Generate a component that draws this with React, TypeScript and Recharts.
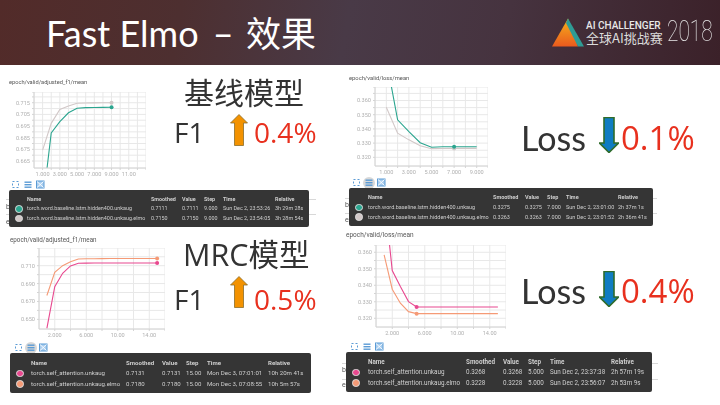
import { LineChart, Line, XAxis, YAxis, CartesianGrid } from "recharts";

const FONT = "Roboto, sans-serif";
const SLIDE_FONT = "'Open Sans', 'Noto Sans CJK SC', sans-serif";
const TITLE_FONT = "Lato, 'Noto Sans CJK SC', sans-serif";

const GREEN = "#2ba58f";
const GRAY = "#d2c8c8";
const PINK = "#e8488f";
const ORANGE = "#f59a76";

// chart values
const baselineSteps = [1, 2, 3, 4, 5, 6, 7, 8, 9];
const mrcSteps = [1, 2, 3, 4, 5, 6, 7, 8, 9, 10, 11, 12, 13, 14, 15];

const baseF1 = [0.627, 0.689, 0.6987, 0.7064, 0.7102, 0.7108, 0.7109, 0.711, 0.7111];
const baseF1Elmo = [0.6744, 0.6973, 0.7093, 0.7122, 0.7145, 0.7148, 0.7149, 0.715, 0.715];
const baseLoss = [0.389, 0.3464, 0.3381, 0.3303, 0.3271, 0.3274, 0.3275, 0.3275, 0.3275];
const baseLossElmo = [0.3553, 0.337, 0.3323, 0.3282, 0.3261, 0.3262, 0.3263, 0.3263, 0.3263];
const mrcF1 = [0.64, 0.6865, 0.7015, 0.7097, 0.7127, 0.7129, 0.713, 0.713, 0.7131, 0.7131, 0.7131, 0.7131, 0.7131, 0.7131, 0.7131];
const mrcF1Elmo = [0.6767, 0.7026, 0.71, 0.7145, 0.7175, 0.7177, 0.7178, 0.7179, 0.718, 0.718, 0.718, 0.718, 0.718, 0.718, 0.718];
const mrcLoss = [0.3955, 0.3489, 0.3392, 0.3301, 0.3268, 0.3268, 0.3268, 0.3268, 0.3268, 0.3268, 0.3268, 0.3268, 0.3268, 0.3268, 0.3268];
const mrcLossElmo = [0.3584, 0.3376, 0.3291, 0.324, 0.3228, 0.3228, 0.3228, 0.3228, 0.3228, 0.3228, 0.3228, 0.3228, 0.3228, 0.3228, 0.3228];

const xGridBaseF1 = [1, 2, 3, 4, 5, 6, 7, 8, 9, 10, 11, 12, 13];
const xGridBaseLoss = [1, 2, 3, 4, 5, 6, 7, 8, 9, 10];
const xGridMrc = [2, 4, 6, 8, 10, 12, 14, 16];
const xLabelsBase: Record<number, string> = { 1: "1.000", 3: "3.000", 5: "5.000", 7: "7.000", 9: "9.000", 11: "11.00" };
const xLabelsBaseLoss: Record<number, string> = { 1: "1.000", 3: "3.000", 5: "5.000", 7: "7.000", 9: "9.000" };
const xLabelsMrc: Record<number, string> = { 2: "2.000", 6: "6.000", 10: "10.00", 14: "14.00" };

const yGridBaseF1 = [0.665, 0.67, 0.675, 0.68, 0.685, 0.69, 0.695, 0.7, 0.705, 0.71, 0.715, 0.72];
const yLabelsBaseF1 = [0.665, 0.675, 0.685, 0.695, 0.705, 0.715];
const yGridLoss = [0.32, 0.325, 0.33, 0.335, 0.34, 0.345, 0.35, 0.355, 0.36, 0.365];
const yLabelsLoss = [0.32, 0.33, 0.34, 0.35, 0.36];
const yGridMrcF1 = [0.65, 0.66, 0.67, 0.68, 0.69, 0.7, 0.71, 0.72];
const yLabelsMrcF1 = [0.65, 0.67, 0.69, 0.71];

const tableColumns = ["Name", "Smoothed", "Value", "Step", "Time", "Relative"];
const rowsBaseF1 = [
  ["torch.word.baseline.lstm.hidden400.unkaug", "0.7111", "0.7111", "9.000", "Sun Dec 2, 23:53:26", "3h 29m 28s"],
  ["torch.word.baseline.lstm.hidden400.unkaug.elmo", "0.7150", "0.7150", "9.000", "Sun Dec 2, 23:54:05", "3h 28m 54s"],
];
const rowsBaseLoss = [
  ["torch.word.baseline.lstm.hidden400.unkaug", "0.3275", "0.3275", "7.000", "Sun Dec 2, 23:01:00", "2h 37m 1s"],
  ["torch.word.baseline.lstm.hidden400.unkaug.elmo", "0.3263", "0.3263", "7.000", "Sun Dec 2, 23:01:52", "2h 36m 41s"],
];
const rowsMrcF1 = [
  ["torch.self_attention.unkaug", "0.7131", "0.7131", "15.00", "Mon Dec 3, 07:01:01", "10h 20m 41s"],
  ["torch.self_attention.unkaug.elmo", "0.7180", "0.7180", "15.00", "Mon Dec 3, 07:08:55", "10h 5m 57s"],
];
const rowsMrcLoss = [
  ["torch.self_attention.unkaug", "0.3268", "0.3268", "5.000", "Sun Dec 2, 23:37:38", "2h 57m 19s"],
  ["torch.self_attention.unkaug.elmo", "0.3228", "0.3228", "5.000", "Sun Dec 2, 23:56:07", "2h 53m 9s"],
];

type PanelProps = {
  box: [number, number, number, number];
  steps: number[];
  first: number[];
  second: number[];
  colors: [string, string];
  xDomain: [number, number];
  yDomain: [number, number];
  xGrid: number[];
  xLabels: Record<number, string>;
  yGrid: number[];
  yLabels: number[];
  markStep: number;
};

function Panel({ box, steps, first, second, colors, xDomain, yDomain, xGrid, xLabels, yGrid, yLabels, markStep }: PanelProps) {
  const [left, top, w, h] = box;
  const axisW = 30;
  const axisH = 17;
  const data = steps.map((s, i) => ({ step: s, a: first[i], b: second[i] }));
  const mark = (color: string) => (p: any) =>
    p.payload.step === markStep ? <circle key={p.index} cx={p.cx} cy={p.cy} r={2} fill={color} /> : <g key={p.index} />;
  return (
    <div style={{ position: "absolute", left: left - axisW, top, filter: "blur(0.45px)" }}>
      <LineChart width={w + axisW} height={h + axisH} data={data} margin={{ top: 0, right: 0, bottom: 0, left: 0 }}>
        <CartesianGrid stroke="#e8e8e8" strokeWidth={1} />
        <XAxis
          dataKey="step"
          type="number"
          domain={xDomain}
          ticks={xGrid}
          interval={0}
          allowDataOverflow
          height={axisH}
          tickSize={2}
          tickLine={{ stroke: "#d4d4d4" }}
          axisLine={{ stroke: "#d4d4d4" }}
          tick={{ fill: "#b0b0b0", fontSize: 5.6, fontFamily: FONT }}
          tickFormatter={(v: number) => xLabels[v] ?? ""}
        />
        <YAxis
          type="number"
          domain={yDomain}
          ticks={[...yGrid, yDomain[1]]}
          interval={0}
          allowDataOverflow
          width={axisW}
          tickSize={2}
          tickLine={{ stroke: "#d4d4d4" }}
          axisLine={{ stroke: "#d4d4d4" }}
          tick={{ fill: "#b0b0b0", fontSize: 5.6, fontFamily: FONT }}
          tickFormatter={(v: number) => (yLabels.some((l) => Math.abs(l - v) < 1e-6) ? v.toFixed(3) : "")}
        />
        <Line dataKey="b" type="linear" stroke={colors[1]} strokeWidth={1.1} dot={mark(colors[1])} activeDot={false} isAnimationActive={false} />
        <Line dataKey="a" type="linear" stroke={colors[0]} strokeWidth={1.1} dot={mark(colors[0])} activeDot={false} isAnimationActive={false} />
      </LineChart>
    </div>
  );
}

type TableProps = {
  left: number;
  top: number;
  width: number;
  height: number;
  rows: string[][];
  colors: [string, string];
  cols: number[];
  size: number;
};

function DataTable({ left, top, width, height, rows, colors, cols, size }: TableProps) {
  const headY = height * 0.25;
  const rowY = [height * 0.51, height * 0.77];
  return (
    <div style={{ position: "absolute", left, top, width, height, background: "#353535", borderRadius: 2, fontFamily: FONT, fontSize: size, lineHeight: 1, color: "#cfcfcf", filter: "blur(0.35px)" }}>
      {tableColumns.map((c, i) => (
        <span key={c} style={{ position: "absolute", left: cols[i], top: headY - size / 2, fontWeight: 700, whiteSpace: "nowrap" }}>{c}</span>
      ))}
      {rows.map((row, r) => (
        <div key={r}>
          <span style={{ position: "absolute", left: 6.3, top: rowY[r] - 3.8, width: 7.6, height: 7.6, borderRadius: "50%", background: colors[r], border: "0.5px solid #ddd", boxSizing: "border-box" }} />
          {row.map((cell, i) => (
            <span key={i} style={{ position: "absolute", left: cols[i], top: rowY[r] - size / 2, whiteSpace: "nowrap" }}>{cell}</span>
          ))}
        </div>
      ))}
    </div>
  );
}

function Toolbar({ left, top, active }: { left: number; top: number; active?: boolean }) {
  return (
    <svg style={{ position: "absolute", left, top, filter: "blur(0.3px)" }} width={36} height={12} fill="none" stroke="#5b9bd5" strokeWidth={1}>
      {active && <circle cx={17} cy={6} r={6} fill="#d8d8d8" stroke="none" />}
      <rect x={1.5} y={2.5} width={6} height={6} strokeDasharray="2 2" />
      <rect x={13.5} y={2.5} width={7} height={1.4} fill="#5b9bd5" stroke="none" />
      <rect x={13.5} y={5} width={7} height={1.4} fill="#5b9bd5" stroke="none" />
      <rect x={13.5} y={7.5} width={7} height={1.4} fill="#5b9bd5" stroke="none" />
      <rect x={25.5} y={2} width={7.5} height={7} fill="#a9cdee" />
      <path d="M26 2.5 L32.5 8.5 M32.5 2.5 L26 8.5" stroke="#fff" strokeWidth={0.9} />
    </svg>
  );
}

function UpArrow({ left, top, height }: { left: number; top: number; height: number }) {
  return (
    <svg style={{ position: "absolute", left, top }} width={18} height={height}>
      <path d={`M9 0.5 L17.5 9 L13.5 9 L13.5 ${height - 0.5} L4.5 ${height - 0.5} L4.5 9 L0.5 9 Z`} fill="#f39200" stroke="#8a6d2b" strokeWidth={0.8} />
    </svg>
  );
}

function DownArrow({ left, top, height }: { left: number; top: number; height: number }) {
  return (
    <svg style={{ position: "absolute", left, top }} width={20} height={height}>
      <path d={`M5 0.5 L15 0.5 L15 ${height - 10} L19.5 ${height - 10} L10 ${height - 0.5} L0.5 ${height - 10} L5 ${height - 10} Z`} fill="#0f7cc2" stroke="#2f6b2a" strokeWidth={1.6} />
    </svg>
  );
}

function SlideText({ left, top, size, color = "#333", font = SLIDE_FONT, children }: { left: number; top: number; size: number; color?: string; font?: string; children: string }) {
  return (
    <div style={{ position: "absolute", left, top, fontSize: size, lineHeight: 1, color, fontFamily: font, whiteSpace: "nowrap", filter: "blur(0.25px)" }}>{children}</div>
  );
}

function ChartTitle({ left, top, size, children }: { left: number; top: number; size: number; children: string }) {
  return (
    <div style={{ position: "absolute", left, top, fontSize: size, lineHeight: 1, color: "#555", fontFamily: FONT, whiteSpace: "nowrap", filter: "blur(0.3px)" }}>{children}</div>
  );
}

// bits of the page that peek out from behind a tooltip
function Peek({ left, top, width, y1, y2 }: { left: number; top: number; width: number; y1: number; y2: number }) {
  const text = { position: "absolute", left, fontSize: 7, lineHeight: 1, color: "#555", fontFamily: FONT, filter: "blur(0.3px)" } as const;
  const rule = { position: "absolute", left, width, height: 1, background: "#d8d8d8" } as const;
  return (
    <>
      <div style={{ ...rule, top: y1 }} />
      <div style={{ ...rule, top: y2 }} />
      <div style={{ ...text, top }}>b</div>
      <div style={{ ...text, top: top + 15 }}>e</div>
    </>
  );
}

export default function App() {
  return (
    <div style={{ position: "fixed", left: 0, top: 0, width: 720, height: 405, overflow: "hidden", background: "#fff" }}>
      <div style={{ position: "absolute", left: 0, top: 0, width: 720, height: 65, background: "linear-gradient(100deg, #522b29 0%, #4d2f30 25%, #493a47 48%, #46333f 70%, #3b2129 100%)" }} />
      <div style={{ position: "absolute", left: 46, top: 13, fontSize: 36, lineHeight: 1.15, color: "#fff", fontFamily: TITLE_FONT, whiteSpace: "nowrap" }}>
        Fast Elmo<span style={{ marginLeft: 5 }}> – </span><span style={{ fontSize: 35, marginLeft: 3 }}>效果</span>
      </div>

      <svg style={{ position: "absolute", left: 552, top: 18 }} width={33} height={29}>
        <defs>
          <linearGradient id="logoFill" x1="0" y1="0" x2="0" y2="1">
            <stop offset="0%" stopColor="#f6b21b" />
            <stop offset="100%" stopColor="#ea5a1e" />
          </linearGradient>
        </defs>
        <polygon points="16,0.5 0,28.5 26,28.5" fill="url(#logoFill)" />
        <polygon points="16,0.5 32,28.5 26,28.5 14,5" fill="#2f9c95" />
      </svg>
      <div style={{ position: "absolute", left: 586, top: 20.5, fontSize: 10, lineHeight: 1, fontWeight: 500, color: "#e8e8e8", fontFamily: FONT, whiteSpace: "nowrap" }}>AI CHALLENGER</div>
      <div style={{ position: "absolute", left: 586, top: 31, fontSize: 13, lineHeight: 1, color: "#dcdcdc", fontFamily: "'Noto Sans CJK SC'", whiteSpace: "nowrap" }}>全球AI挑战赛</div>
      <div style={{ position: "absolute", left: 667, top: 16, fontSize: 29, lineHeight: 1.1, color: "#e8e8e8", fontFamily: FONT, fontWeight: 100, whiteSpace: "nowrap", transform: "scaleX(0.72)", transformOrigin: "left top" }}>2018</div>

      <ChartTitle left={9} top={80} size={5.7}>epoch/valid/adjusted_f1/mean</ChartTitle>
      <Panel box={[34, 92, 112, 76]} steps={baselineSteps} first={baseF1} second={baseF1Elmo} colors={[GREEN, GRAY]} xDomain={[0, 13]} yDomain={[0.659, 0.7242]} xGrid={xGridBaseF1} xLabels={xLabelsBase} yGrid={yGridBaseF1} yLabels={yLabelsBaseF1} markStep={9} />
      <Toolbar left={11} top={179} />
      <Peek left={6} top={204} width={310} y1={199} y2={214} />
      <DataTable left={9} top={190} width={300} height={37} size={5.4} rows={rowsBaseF1} colors={[GREEN, GRAY]} cols={[18, 142, 173, 195, 214, 266]} />

      <ChartTitle left={349} top={76} size={5.8}>epoch/valid/loss/mean</ChartTitle>
      <Panel box={[375, 87, 113, 79]} steps={baselineSteps} first={baseLoss} second={baseLossElmo} colors={[GREEN, GRAY]} xDomain={[0, 10]} yDomain={[0.3139, 0.3695]} xGrid={xGridBaseLoss} xLabels={xLabelsBaseLoss} yGrid={yGridLoss} yLabels={yLabelsLoss} markStep={7} />
      <Toolbar left={352} top={177} active />
      <Peek left={345} top={202} width={312} y1={198} y2={213} />
      <DataTable left={349} top={188} width={304} height={38} size={5.5} rows={rowsBaseLoss} colors={[GREEN, GRAY]} cols={[19, 144, 176, 198, 217, 269]} />

      <ChartTitle left={10} top={237} size={6.3}>epoch/valid/adjusted_f1/mean</ChartTitle>
      <Panel box={[39, 248, 126, 81]} steps={mrcSteps} first={mrcF1} second={mrcF1Elmo} colors={[PINK, ORANGE]} xDomain={[0, 16]} yDomain={[0.6392, 0.7298]} xGrid={xGridMrc} xLabels={xLabelsMrc} yGrid={yGridMrcF1} yLabels={yLabelsMrcF1} markStep={15} />
      <Toolbar left={14} top={342} active />
      <DataTable left={10} top={353} width={301} height={40} size={6.1} rows={rowsMrcF1} colors={[PINK, ORANGE]} cols={[21, 116, 152, 176, 197, 258]} />

      <ChartTitle left={346} top={232} size={6.5}>epoch/valid/loss/mean</ChartTitle>
      <Panel box={[376, 245, 130, 82]} steps={mrcSteps} first={mrcLoss} second={mrcLossElmo} colors={[PINK, ORANGE]} xDomain={[0, 16]} yDomain={[0.3147, 0.3644]} xGrid={xGridMrc} xLabels={xLabelsMrc} yGrid={yGridLoss} yLabels={yLabelsLoss} markStep={5} />
      <Toolbar left={350} top={341} />
      <Peek left={342} top={367} width={316} y1={363} y2={379} />
      <DataTable left={346} top={352} width={306} height={40} size={6.3} rows={rowsMrcLoss} colors={[PINK, ORANGE]} cols={[22, 120, 157, 182, 204, 265]} />

      <SlideText left={184} top={78} size={30}>基线模型</SlideText>
      <SlideText left={174} top={118} size={28}>F1</SlideText>
      <UpArrow left={230} top={114} height={32} />
      <SlideText left={254} top={118} size={28} color="#e8301e">0.4%</SlideText>

      <SlideText left={521} top={121} size={34} font={TITLE_FONT}>Loss</SlideText>
      <DownArrow left={599} top={117} height={36} />
      <SlideText left={621} top={121} size={33} color="#e8301e">0.1%</SlideText>

      <SlideText left={183} top={239} size={30.5}>MRC模型</SlideText>
      <SlideText left={174} top={285} size={28}>F1</SlideText>
      <UpArrow left={230} top={276} height={32} />
      <SlideText left={254} top={285} size={28} color="#e8301e">0.5%</SlideText>

      <SlideText left={521} top={274} size={34} font={TITLE_FONT}>Loss</SlideText>
      <DownArrow left={599} top={271} height={36} />
      <SlideText left={621} top={274} size={33} color="#e8301e">0.4%</SlideText>
    </div>
  );
}
